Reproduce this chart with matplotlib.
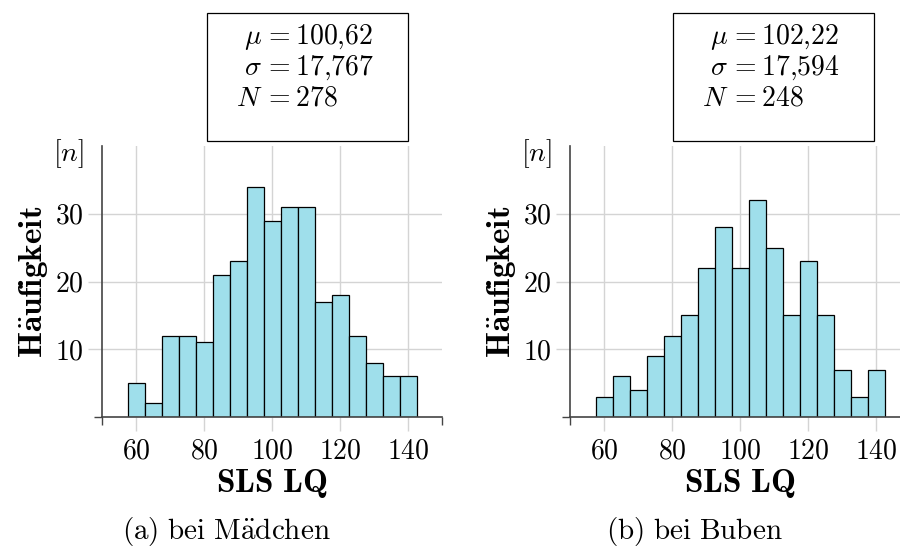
import numpy as np
import matplotlib
matplotlib.use("Agg")
import matplotlib.pyplot as plt
from matplotlib.patches import Rectangle

plt.rcParams["font.family"] = "serif"
plt.rcParams["font.serif"] = ["cmr10", "DejaVu Serif"]
plt.rcParams["mathtext.fontset"] = "cm"
plt.rcParams["axes.formatter.use_mathtext"] = True

# bin centres (width 5) and counts
bin_centers = [60, 65, 70, 75, 80, 85, 90, 95, 100, 105, 110, 115, 120, 125, 130, 135, 140]
counts_girls = [5, 2, 12, 12, 11, 21, 23, 34, 29, 31, 31, 17, 18, 12, 8, 6, 6]
counts_boys = [3, 6, 4, 9, 12, 15, 22, 28, 22, 32, 25, 15, 23, 15, 7, 3, 7]

x_ticks = [60, 80, 100, 120, 140]
y_ticks = [10, 20, 30]

stats_girls = ["100{,}62", "17{,}767", "278"]
stats_boys = ["102{,}22", "17{,}594", "248"]
stat_names = [r"\mu", r"\sigma", "N"]

captions = [r"$\mathrm{(a)\ bei\ M\ddot{a}dchen}$", r"$\mathrm{(b)\ bei\ Buben}$"]

W, H = 900, 557
fs = 20
bar_color = "#9fdfeb"
axis_color = "#444444"
grid_color = "#d4d4d4"

fig = plt.figure(figsize=(9, 5.57), dpi=100)


def px(x, y):
    return x / W, 1 - y / H


def draw_panel(left_px, counts, stats, caption, box_left_px):
    ax = fig.add_axes([left_px / W, 1 - 417 / H, 340 / W, 271 / H])
    ax.bar(bin_centers, counts, width=5, color=bar_color, edgecolor="black",
           linewidth=0.9, zorder=2)
    ax.set_xlim(50, 150)
    ax.set_ylim(0, 40)
    ax.set_xticks(x_ticks)
    ax.set_yticks(y_ticks)
    ax.set_xticks([50, 150], minor=True)
    ax.set_yticks([0], minor=True)
    ax.tick_params(which="major", length=10, width=1, color=grid_color,
                   direction="out", labelsize=fs, pad=3)
    ax.tick_params(axis="x", which="major", pad=5)
    ax.tick_params(which="minor", length=6, width=1, color=axis_color, direction="out")
    ax.grid(True, color=grid_color, linewidth=1, zorder=0)
    ax.set_axisbelow(True)
    for s in ["top", "right"]:
        ax.spines[s].set_visible(False)
    for s in ["left", "bottom"]:
        ax.spines[s].set_color(axis_color)
        ax.spines[s].set_linewidth(1.2)
    ax.set_ylabel(r"$\mathbf{H\ddot{a}ufigkeit}$", fontsize=24, labelpad=4)
    ax.set_xlabel(r"$\mathbf{SLS\ LQ}$", fontsize=24, labelpad=2)

    fig.text(*px(left_px - 18, 154), r"$[n]$", fontsize=fs, ha="right", va="center")

    # stats box
    fig.patches.append(Rectangle(px(box_left_px, 141), 201 / W, 128 / H,
                                 transform=fig.transFigure, fill=False,
                                 edgecolor="black", linewidth=0.9))
    eq_x = box_left_px + 57
    for i, (name, val) in enumerate(zip(stat_names, stats)):
        yb = 44 + 31 * i
        fig.text(*px(eq_x - 2, yb), "$" + name + "$", fontsize=fs,
                 ha="right", va="baseline")
        fig.text(*px(eq_x, yb), "$= " + val + "$", fontsize=fs,
                 ha="left", va="baseline")

    fig.text(*px(left_px + 124, 531), caption, fontsize=21, ha="center", va="center")
    return ax


draw_panel(102, counts_girls, stats_girls, captions[0], 207)
draw_panel(570, counts_boys, stats_boys, captions[1], 673)

fig.savefig("out.png", dpi=100)
